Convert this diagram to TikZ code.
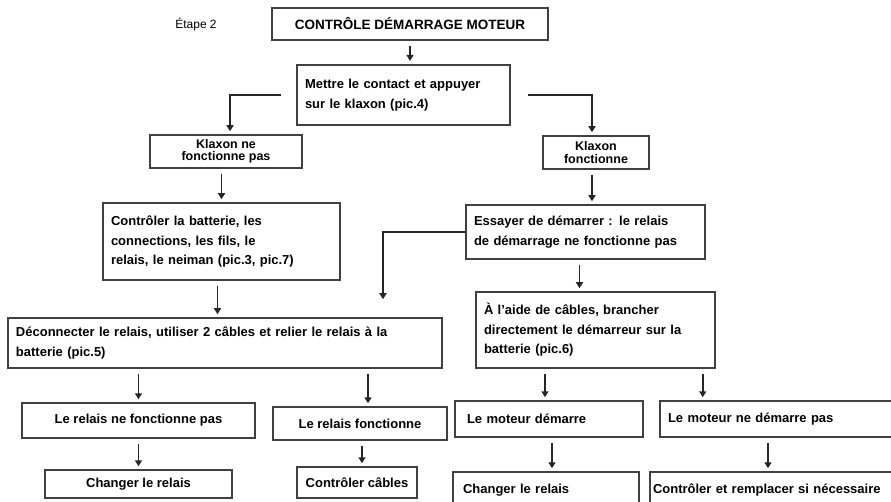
\documentclass[tikz,border=0pt]{standalone}
\usepackage{fontspec}
\setmainfont{Liberation Sans}
\usetikzlibrary{arrows.meta}

\begin{document}
\begin{tikzpicture}[x=1pt, y=-1pt,
  box/.style={draw=black!75, line width=1.5pt, fill=white, inner xsep=8pt, inner ysep=0pt,
    font=\fontsize{13}{19.5}\selectfont\bfseries},
  lbox/.style={box, align=left},
  cbox/.style={box, align=center},
  smalltext/.style={font=\fontsize{12.5}{12.5}\selectfont\bfseries},
  arr/.style={line width=1.8pt, draw=black!85, -{Triangle[width=7pt,length=6pt]},
    shorten <=5pt, shorten >=3pt}]
  \useasboundingbox (0,0) rectangle (891,502);

  % titre
  \node[font=\fontsize{12}{14}\selectfont] (etape) at (196,25) {Étape 2};
  \node[cbox, line width=2.2pt, minimum width=276pt, minimum height=32pt,
    font=\fontsize{13.5}{15}\selectfont\bfseries] (titre) at (410,24) {CONTRÔLE DÉMARRAGE MOTEUR};
  \node[lbox, line width=2.2pt, text width=197pt, minimum height=60pt] (mettre) at (403.5,95)
    {Mettre le contact et appuyer\\sur le klaxon (pic.4)};

  % klaxon
  \node[cbox, smalltext, minimum width=152pt, minimum height=33pt] (klaxnon) at (226,151.5)
    {Klaxon ne\\fonctionne pas};
  \node[cbox, smalltext, minimum width=106pt, minimum height=33pt] (klaxoui) at (596,152.5)
    {Klaxon\\fonctionne};

  % branche gauche
  \node[lbox, text width=221pt, minimum height=77pt] (controler) at (221.5,241.5)
    {Contrôler la batterie, les\\connections, les fils, le\\relais, le neiman (pic.3, pic.7)};
  \node[lbox, text width=418pt, minimum height=50pt] (deconn) at (225,343)
    {Déconnecter le relais, utiliser 2 câbles et relier le relais à la\\batterie (pic.5)};
  \node[cbox, minimum width=233pt, minimum height=35pt] (rnf) at (138.5,420.5)
    {Le relais ne fonctionne pas};
  \node[cbox, minimum width=174pt, minimum height=33pt] (rf) at (360,423.5)
    {Le relais fonctionne};
  \node[cbox, minimum width=187pt, minimum height=28pt] (chg1) at (138.5,484)
    {Changer le relais};
  \node[cbox, minimum width=120pt, minimum height=31pt] (ctrlc) at (357,482.5)
    {Contrôler câbles};

  % branche droite
  \node[lbox, text width=223pt, minimum height=54pt] (essayer) at (585.5,232)
    {Essayer de démarrer : le relais\\de démarrage ne fonctionne pas};
  \node[lbox, text width=223pt, minimum height=76pt] (alaide) at (595.5,330)
    {À l'aide de câbles, brancher\\directement le démarreur sur la\\batterie (pic.6)};
  \node[lbox, text width=164pt, minimum height=36pt, inner xsep=12pt] (md) at (549,419)
    {Le moteur démarre};
  \node[lbox, text width=224pt, minimum height=36pt] (mnd) at (780,419)
    {Le moteur ne démarre pas};
  \node[lbox, text width=166pt, minimum height=36pt, inner xsep=10pt] (chg2) at (546,490)
    {Changer le relais};
  \node[lbox, text width=244pt, minimum height=36pt, inner xsep=3pt] (ctrlr) at (775,490)
    {Contrôler et remplacer si nécessaire};

  % flèches
  \draw[arr] (titre.south) -- (titre.south |- mettre.north);
  \draw[arr, shorten <=15pt] (mettre.west) -| ([xshift=4pt]klaxnon.north);
  \draw[arr, shorten <=17pt] (mettre.east) -| ([xshift=-4pt]klaxoui.north);
  \draw[arr] (klaxnon.south -| controler.north) -- (controler.north);
  \draw[arr] ([xshift=-4pt]klaxoui.south) -- ([xshift=-4pt]klaxoui.south |- essayer.north);
  \draw[arr] ([xshift=-4pt]controler.south) -- ([xshift=-4pt]controler.south |- deconn.north);
  \draw[arr, shorten <=0pt, shorten >=18pt] (essayer.west) -| ([xshift=158pt]deconn.north);
  \draw[arr] ([xshift=-6pt]essayer.south) -- ([xshift=-6pt]essayer.south |- alaide.north);
  \draw[arr] (rnf.north |- deconn.south) -- (rnf.north);
  \draw[arr] ([xshift=8pt]rf.north |- deconn.south) -- ([xshift=8pt]rf.north);
  \draw[arr] ([xshift=-4pt]md.north |- alaide.south) -- ([xshift=-4pt]md.north);
  \draw[arr] ([xshift=-13pt]alaide.south east) -- ([xshift=-13pt]alaide.south east |- mnd.north);
  \draw[arr] (rnf.south) -- (rnf.south |- chg1.north);
  \draw[arr] ([xshift=2pt]rf.south) -- ([xshift=2pt]rf.south |- ctrlc.north);
  \draw[arr] ([xshift=3pt]md.south) -- ([xshift=3pt]md.south |- chg2.north);
  \draw[arr] ([xshift=-12pt]mnd.south) -- ([xshift=-12pt]mnd.south |- ctrlr.north);
\end{tikzpicture}
\end{document}
